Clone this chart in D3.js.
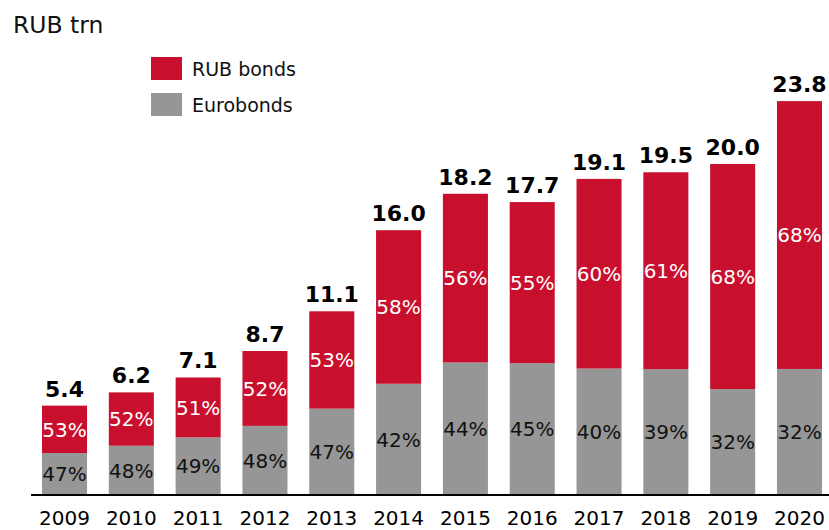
<!DOCTYPE html>
<html>
<head>
<meta charset="utf-8">
<script src="https://cdn.jsdelivr.net/npm/d3@7"></script>
<style>
  body { margin: 0; background: #fff; }
  svg { font-family: "DejaVu Sans", sans-serif; }
</style>
</head>
<body>
<div id="chart"></div>
<script>
// values
const years   = ['2009', '2010', '2011', '2012', '2013', '2014', '2015', '2016', '2017', '2018', '2019', '2020'];
const totals  = [5.4, 6.2, 7.1, 8.7, 11.1, 16.0, 18.2, 17.7, 19.1, 19.5, 20.0, 23.8];
const rubPct  = [53, 52, 51, 52, 53, 58, 56, 55, 60, 61, 68, 68];
const euroPct = [47, 48, 49, 48, 47, 42, 44, 45, 40, 39, 32, 32];
const seriesNames = ['RUB bonds', 'Eurobonds'];

const colors = { rub: '#c8102e', euro: '#969696' };

const width = 829, height = 530;
const base = 495;

const svg = d3.select('#chart').append('svg')
    .attr('width', width)
    .attr('height', height);

const x = d3.scaleBand()
    .domain(years)
    .range([42, 822])
    .paddingInner(0.326)
    .paddingOuter(0);

const y = d3.scaleLinear()
    .domain([0, 24])
    .range([base, base - 24 * 16.55]);

// build stacked segments
let bars = [];
years.forEach(function(yr, i) {
  let euroVal = totals[i] * euroPct[i] / 100;
  bars.push({ year: yr, y0: 0, y1: euroVal, cls: 'euro', pct: euroPct[i] });
  bars.push({ year: yr, y0: euroVal, y1: totals[i], cls: 'rub', pct: rubPct[i] });
});

let g = svg.append('g');

g.selectAll('.bar')
  .data(bars)
  .enter().append('rect')
    .attr('class', d => 'bar ' + d.cls)
    .attr('x', d => x(d.year))
    .attr('y', d => y(d.y1))
    .attr('width', x.bandwidth())
    .attr('height', d => y(d.y0) - y(d.y1))
    .attr('fill', d => colors[d.cls]);

// percent labels centred in each segment
g.selectAll('.pct')
  .data(bars)
  .enter().append('text')
    .attr('class', 'pct')
    .attr('x', d => x(d.year) + x.bandwidth() / 2)
    .attr('y', d => (y(d.y0) + y(d.y1)) / 2)
    .attr('dy', '0.36em')
    .attr('text-anchor', 'middle')
    .attr('font-size', 20)
    .attr('fill', d => d.cls == 'rub' ? '#fff' : '#111')
    .text(d => d.pct + '%');

// totals on top
g.selectAll('.total')
  .data(years)
  .enter().append('text')
    .attr('class', 'total')
    .attr('x', d => x(d) + x.bandwidth() / 2)
    .attr('y', (d, i) => y(totals[i]) - 9)
    .attr('text-anchor', 'middle')
    .attr('font-size', 22)
    .attr('font-weight', 'bold')
    .attr('fill', '#000')
    .text((d, i) => totals[i].toFixed(1));

// baseline
svg.append('line')
    .attr('x1', 31).attr('x2', width)
    .attr('y1', base).attr('y2', base)
    .attr('stroke', '#000')
    .attr('stroke-width', 2);

// year labels
svg.selectAll('.year')
  .data(years)
  .enter().append('text')
    .attr('class', 'year')
    .attr('x', d => x(d) + x.bandwidth() / 2)
    .attr('y', 525)
    .attr('text-anchor', 'middle')
    .attr('font-size', 20)
    .attr('fill', '#000')
    .text(d => d);

// title
svg.append('text')
    .attr('x', 13)
    .attr('y', 33)
    .attr('font-size', 23.5)
    .attr('fill', '#111')
    .text('RUB trn');

// legend
let legend = svg.append('g')
    .attr('transform', 'translate(151,57)');

let items = legend.selectAll('g')
  .data(seriesNames)
  .enter().append('g')
    .attr('transform', (d, i) => 'translate(0,' + (i * 36) + ')');

items.append('rect')
    .attr('width', 31)
    .attr('height', 23)
    .attr('fill', (d, i) => i == 0 ? colors.rub : colors.euro);

items.append('text')
    .attr('x', 41)
    .attr('y', 19)
    .attr('font-size', 19)
    .attr('fill', '#111')
    .text(d => d);
</script>
</body>
</html>
